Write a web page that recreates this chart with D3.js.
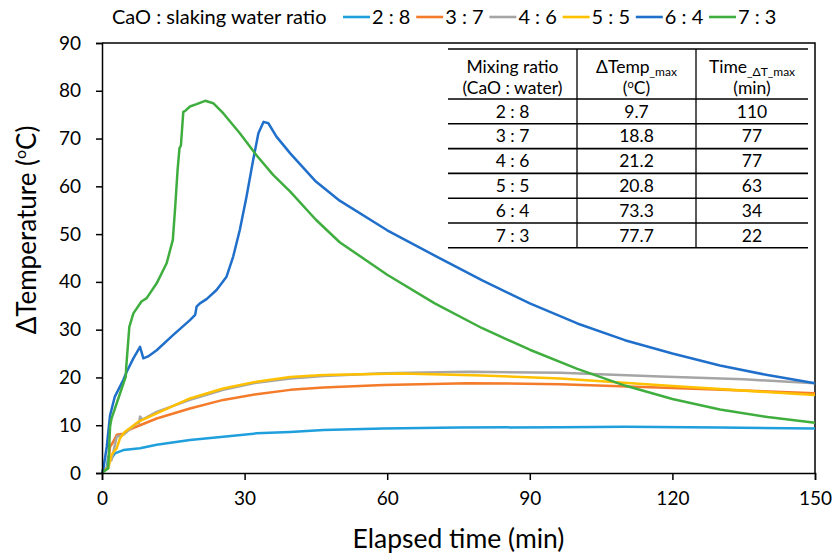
<!DOCTYPE html>
<html>
<head>
<meta charset="utf-8">
<script src="https://cdn.jsdelivr.net/npm/d3@7"></script>
<style>
  body { margin: 0; background: #fff; }
  text { font-family: Lato, "Noto Sans", sans-serif; fill: #000; }
</style>
</head>
<body>
<div id="chart"></div>
<script>
// series names + colours
const seriesNames = ['2 : 8', '3 : 7', '4 : 6', '5 : 5', '6 : 4', '7 : 3'];
const seriesColors = ['#1f9fdc', '#f47b2a', '#a5a5a5', '#ffc000', '#1f6fcb', '#3fae3f'];

// time (min) / delta T (C)
const t28 = [0, 1, 1.3, 2, 2.7, 4.5, 8, 11.5, 18.5, 25.5, 32.5, 39.6, 46.6, 59.2, 75, 96.4, 110, 130, 150];
const v28 = [0.5, 1, 3.4, 3.1, 4.1, 4.8, 5.2, 5.9, 6.9, 7.6, 8.3, 8.6, 9.0, 9.3, 9.5, 9.6, 9.7, 9.5, 9.3];

const t37 = [0, 1.2, 1.7, 2.4, 3.1, 4.5, 5.5, 8, 11.5, 18.5, 25.5, 32.5, 39.6, 46.6, 59.2, 77, 96.4, 120, 150];
const v37 = [0.5, 1, 5.5, 6.6, 8, 8.2, 9, 10, 11.4, 13.5, 15.3, 16.5, 17.4, 17.9, 18.4, 18.8, 18.6, 17.8, 16.7];

const t46 = [0, 1.2, 1.3, 2, 3.1, 4.5, 7.3, 7.8, 8, 8.5, 11.5, 18.5, 25.5, 32.5, 39.6, 46.6, 59.2, 77, 96.4, 117.4, 135, 150];
const v46 = [0.5, 1, 3.1, 2.7, 7.6, 8, 10.4, 10.5, 11.8, 11.2, 12.8, 15.3, 17.4, 18.9, 19.8, 20.3, 20.9, 21.2, 21.0, 20.2, 19.6, 18.8];

const t55 = [0, 1.3, 2, 3.1, 3.8, 4.8, 7.6, 11.5, 18.5, 25.5, 32.5, 39.6, 46.6, 63, 80, 96.4, 120, 150];
const v55 = [0.5, 1, 3.8, 5.2, 7.3, 8.6, 10.7, 12.5, 15.6, 17.7, 19.1, 20.1, 20.5, 20.8, 20.4, 19.8, 18.2, 16.3];

const t64 = [0, 0.3, 1, 1.7, 2.7, 4.5, 5.2, 6.6, 8.0, 8.7, 9.7, 11.5, 15, 18.5, 19.6, 19.9, 20.6, 22, 24.1, 26.2, 27.6, 29, 30.4, 31.8, 32.9, 34, 35, 36.7, 39.6, 45, 50, 60, 70, 80, 90, 100, 110, 120, 130, 140, 150];
const v64 = [0, 1, 5.5, 12.1, 16, 19.5, 21.2, 24, 26.4, 24, 24.4, 25.7, 28.9, 32, 33.1, 34.8, 35.5, 36.4, 38.3, 41.1, 45.3, 50.9, 57.8, 65.5, 71.1, 73.5, 73.2, 70.4, 66.9, 61, 57, 50.8, 45.5, 40.3, 35.5, 31.3, 27.8, 25, 22.5, 20.5, 18.8];

const t73 = [0, 1.3, 1.7, 2.0, 5.0, 5.1, 5.75, 6.6, 8.3, 9.4, 11.5, 13.6, 14.9, 15.4, 15.9, 16.3, 16.6, 17.1, 17.5, 18.5, 19.9, 21.7, 23.4, 25.5, 29, 32.5, 36, 39.6, 45, 50, 60, 70, 80, 90, 100, 110, 120, 130, 140, 150];
const v73 = [0, 1, 9.7, 11.4, 20.2, 22.2, 30.6, 33.4, 35.9, 36.6, 39.7, 43.9, 48.8, 55.7, 63.4, 68, 68.5, 75.6, 75.8, 76.7, 77.2, 77.9, 77.4, 75.3, 71.1, 66.5, 62.4, 58.9, 53, 48.3, 41.5, 35.5, 30.3, 25.8, 21.8, 18.3, 15.5, 13.3, 11.7, 10.5];

const seriesTimes = [t28, t37, t46, t55, t64, t73];
const seriesValues = [v28, v37, v46, v55, v64, v73];

// table
const tableHeader = [['Mixing ratio', '(CaO : water)'], ['\u0394Temp', '(\u00baC)'], ['Time', '(min)']];
const tableRatios = ['2 : 8', '3 : 7', '4 : 6', '5 : 5', '6 : 4', '7 : 3'];
const tableTempMax = ['9.7', '18.8', '21.2', '20.8', '73.3', '77.7'];
const tableTimeMax = ['110', '77', '77', '63', '34', '22'];

const xTicks = [0, 30, 60, 90, 120, 150];
const yTicks = [0, 10, 20, 30, 40, 50, 60, 70, 80, 90];

const width = 834, height = 558;
const margin = {top: 43, right: 19, bottom: 85, left: 102};
const innerW = width - margin.left - margin.right;
const innerH = height - margin.top - margin.bottom;

const svg = d3.select('#chart').append('svg')
    .attr('width', width)
    .attr('height', height);

const xScale = d3.scaleLinear().domain([0, 150]).range([0, innerW]);
const yScale = d3.scaleLinear().domain([0, 90]).range([innerH, 0]);

const viz = svg.append('g')
    .attr('transform', `translate(${margin.left},${margin.top})`);

// plot frame (top + right)
viz.append('path')
    .attr('d', `M0,0H${innerW}V${innerH}`)
    .attr('fill', 'none')
    .attr('stroke', '#000')
    .attr('stroke-width', 1.5);

// lines
const line = d3.line()
    .x(d => xScale(d[0]))
    .y(d => yScale(d[1]));

seriesNames.forEach((name, i) => {
    const pts = seriesTimes[i].map((t, j) => [t, seriesValues[i][j]]);
    viz.append('path')
        .datum(pts)
        .attr('d', line)
        .attr('fill', 'none')
        .attr('stroke', seriesColors[i])
        .attr('stroke-width', 2.5)
        .attr('stroke-linejoin', 'round');
});

// axes
const tickFont = 19;
const xAxisG = viz.append('g')
    .attr('transform', `translate(0,${innerH})`)
    .call(d3.axisBottom(xScale).tickValues(d3.range(0, 151, 10)).tickSize(5).tickFormat(''));
xAxisG.call(d3.axisBottom(xScale).tickValues(xTicks).tickSize(7).tickPadding(12))
    .call(g => g.selectAll('text').attr('font-size', tickFont).style('font-family', 'Lato, sans-serif'));
xAxisG.selectAll('path, line').attr('stroke', '#000').attr('stroke-width', 1.5);

const yAxisG = viz.append('g')
    .call(d3.axisLeft(yScale).tickValues(yTicks).tickSize(6).tickPadding(15))
    .call(g => g.selectAll('text').attr('font-size', tickFont).style('font-family', 'Lato, sans-serif'));
yAxisG.selectAll('path, line').attr('stroke', '#000').attr('stroke-width', 1.5);

// axis titles
svg.append('text')
    .attr('x', margin.left + innerW / 2)
    .attr('y', 548)
    .attr('text-anchor', 'middle')
    .attr('font-size', 26.5)
    .text('Elapsed time (min)');

const yTitle = svg.append('text')
    .attr('transform', 'translate(36,230) rotate(-90)')
    .attr('text-anchor', 'middle')
    .attr('font-size', 26);
yTitle.append('tspan').text('\u0394Temperature (');
yTitle.append('tspan').attr('font-size', 16).attr('dy', -10).text('o');
yTitle.append('tspan').attr('dy', 10).text('C)');

// legend
const legend = svg.append('g').attr('transform', 'translate(0,17)');
legend.append('text')
    .attr('x', 112)
    .attr('dy', '0.35em')
    .attr('font-size', 20)
    .text('CaO : slaking water ratio');
seriesNames.forEach((name, i) => {
    const lx = 343 + i * 73.2;
    legend.append('line')
        .attr('x1', lx).attr('x2', lx + 27)
        .attr('stroke', seriesColors[i])
        .attr('stroke-width', 2.6);
    legend.append('text')
        .attr('x', lx + 29)
        .attr('dy', '0.35em')
        .attr('font-size', 20)
        .text(name);
});

// table
const colX = [448, 577, 696, 808];
const headTop = 49, headBot = 99, rowH = 24.8;
const table = svg.append('g');
const tableBottom = headBot + rowH * tableRatios.length;

[headTop, headBot].concat(tableRatios.map((r, i) => headBot + rowH * (i + 1))).forEach(yy => {
    table.append('line')
        .attr('x1', colX[0]).attr('x2', colX[3])
        .attr('y1', yy).attr('y2', yy)
        .attr('stroke', '#000').attr('stroke-width', 1.6);
});
[colX[1], colX[2]].forEach(xx => {
    table.append('line')
        .attr('x1', xx).attr('x2', xx)
        .attr('y1', headTop).attr('y2', tableBottom)
        .attr('stroke', '#000').attr('stroke-width', 1.3);
});

const colMid = [0, 1, 2].map(i => (colX[i] + colX[i + 1]) / 2);
const fs = 17.5;

// header cells
table.append('text').attr('x', colMid[0]).attr('y', 73).attr('text-anchor', 'middle').attr('font-size', fs).text(tableHeader[0][0]);
table.append('text').attr('x', colMid[0]).attr('y', 94).attr('text-anchor', 'middle').attr('font-size', fs).text(tableHeader[0][1]);

const h2 = table.append('text').attr('x', colMid[1]).attr('y', 73).attr('text-anchor', 'middle').attr('font-size', fs);
h2.append('tspan').text(tableHeader[1][0]);
h2.append('tspan').attr('font-size', 12).attr('dy', 3).text('_max');
const h2b = table.append('text').attr('x', colMid[1]).attr('y', 94).attr('text-anchor', 'middle').attr('font-size', fs);
h2b.append('tspan').text('(');
h2b.append('tspan').attr('font-size', 11).attr('dy', -6).text('o');
h2b.append('tspan').attr('dy', 6).text('C)');

const h3 = table.append('text').attr('x', colMid[2]).attr('y', 73).attr('text-anchor', 'middle').attr('font-size', fs);
h3.append('tspan').text(tableHeader[2][0]);
h3.append('tspan').attr('font-size', 12).attr('dy', 3).text('_\u0394T_max');
table.append('text').attr('x', colMid[2]).attr('y', 94).attr('text-anchor', 'middle').attr('font-size', fs).text(tableHeader[2][1]);

tableRatios.forEach((r, i) => {
    const yy = headBot + rowH * i + rowH / 2;
    [r, tableTempMax[i], tableTimeMax[i]].forEach((txt, c) => {
        table.append('text')
            .attr('x', colMid[c]).attr('y', yy)
            .attr('dy', '0.35em')
            .attr('text-anchor', 'middle')
            .attr('font-size', fs)
            .text(txt);
    });
});
</script>
</body>
</html>
